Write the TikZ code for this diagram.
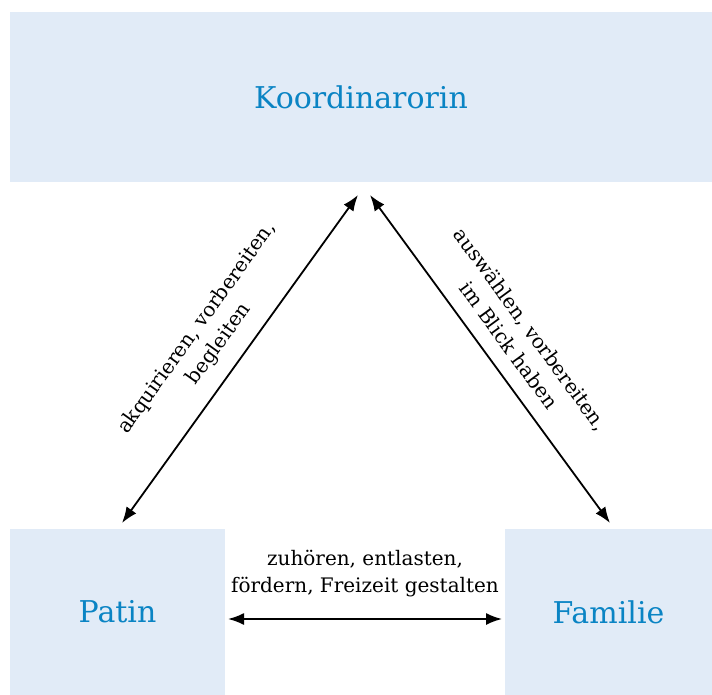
\documentclass[tikz,border=0pt]{standalone}
\usepackage{fontspec}
\setmainfont{DejaVu Serif}
\usetikzlibrary{arrows.meta}
\definecolor{boxfill}{HTML}{E1EBF7}
\definecolor{boxtext}{HTML}{0A84C4}

\begin{document}
\begin{tikzpicture}[x=1pt,y=-1pt]
\tikzstyle{role}=[fill=boxfill,text=boxtext,inner sep=0pt,font=\fontsize{30}{34}\selectfont]
\tikzstyle{link}=[{Latex[length=16pt,width=12pt]}-{Latex[length=16pt,width=12pt]},line width=1.8pt]
\tikzstyle{task}=[align=center,inner sep=0pt,font=\fontsize{20}{27}\selectfont]
\useasboundingbox (0,0) rectangle (712,695);
\node [role,minimum width=702pt,minimum height=170pt] (koord) at (361,97) {Koordinarorin};
\node [role,minimum width=215pt,minimum height=166pt] (patin) at (117.5,612) {Patin};
\node [role,minimum width=207pt,minimum height=166pt] (familie) at (608.5,612) {Familie};
\coordinate (kl) at (358,195);
\coordinate (kr) at (370,195);
\coordinate (pt) at (122,523);
\coordinate (ft) at (610,523);
\coordinate (pr) at (228,619);
\coordinate (fl) at (502,619);
\draw [link] (pt) -- node[task,sloped,above=15pt] {akquirieren, vorbereiten,\\begleiten} (kl);
\draw [link] (kr) -- node[task,sloped,above=15pt] {auswählen, vorbereiten,\\im Blick haben} (ft);
\draw [link] (pr) -- node[task,above=21pt] {zuhören, entlasten,\\fördern, Freizeit gestalten} (fl);
\end{tikzpicture}
\end{document}
